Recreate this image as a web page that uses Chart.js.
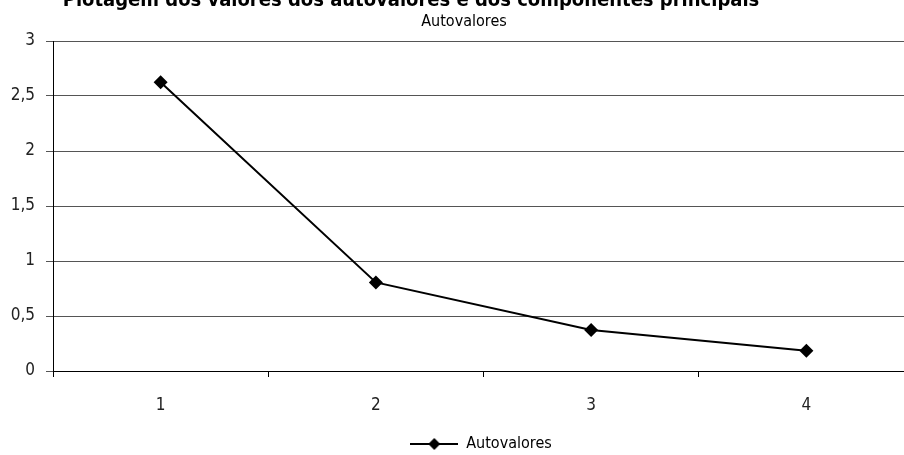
<!DOCTYPE html>
<html>
<head>
<meta charset="utf-8">
<script src="https://cdn.jsdelivr.net/npm/chart.js@4.4.1/dist/chart.umd.min.js"></script>
<style>
  html, body { margin: 0; padding: 0; background: #fff; overflow: hidden; }
  #wrap { position: absolute; left: 0; top: 0; width: 962px; height: 462px; }
</style>
</head>
<body>
<div id="wrap"><canvas id="chart"></canvas></div>
<script>
const FONT = "'Liberation Sans Narrow', 'DejaVu Sans Condensed', 'Open Sans', sans-serif";

const components = ['1', '2', '3', '4'];
const eigenvalues = [2.625, 0.805, 0.372, 0.183];
const seriesName = 'Autovalores';
const chartTitle = 'Plotagem dos valores dos autovalores e dos componentes principais';
const chartSubtitle = 'Autovalores';

// legend swatch: short line with a diamond in the middle
function legendSwatch() {
	const c = document.createElement('canvas');
	c.width = 48;
	c.height = 14;
	const g = c.getContext('2d');
	g.strokeStyle = '#000';
	g.lineWidth = 2;
	g.beginPath();
	g.moveTo(0, 7);
	g.lineTo(48, 7);
	g.stroke();
	g.fillStyle = '#000';
	g.beginPath();
	g.moveTo(24, 1);
	g.lineTo(30, 7);
	g.lineTo(24, 13);
	g.lineTo(18, 7);
	g.closePath();
	g.fill();
	return c;
}

// title sits partly above the top edge, so it is drawn by hand
const headerText = {
	id: 'headerText',
	afterDraw(chart) {
		const ctx = chart.ctx;
		ctx.save();
		ctx.fillStyle = '#000';
		ctx.textAlign = 'center';
		ctx.textBaseline = 'alphabetic';
		ctx.font = 'bold 20px ' + FONT;
		ctx.fillText(chartTitle, 411, 6);
		ctx.font = '16px ' + FONT;
		ctx.fillText(chartSubtitle, 464, 26);
		ctx.restore();
	}
};

const ctx = document.getElementById('chart').getContext('2d');

new Chart(ctx, {
	type: 'line',
	data: {
		labels: components,
		datasets: [{
			label: seriesName,
			data: eigenvalues,
			borderColor: '#000',
			backgroundColor: '#000',
			borderWidth: 2,
			tension: 0,
			pointStyle: 'rectRot',
			pointRadius: 7,
			pointHoverRadius: 7,
			pointBackgroundColor: '#000',
			pointBorderColor: '#000',
			pointBorderWidth: 0
		}]
	},
	options: {
		responsive: true,
		maintainAspectRatio: false,
		animation: false,
		layout: { padding: { top: 41, right: 0, bottom: 0, left: 0 } },
		plugins: {
			title: { display: false },
			tooltip: { enabled: false },
			legend: {
				position: 'bottom',
				labels: {
					usePointStyle: true,
					pointStyle: legendSwatch(),
					pointStyleWidth: 48,
					padding: 4,
					color: '#000',
					font: { family: FONT, size: 16 }
				}
			}
		},
		scales: {
			x: {
				offset: true,
				afterFit: s => { s.height = 61; },
				grid: {
					offset: true,
					drawOnChartArea: false,
					drawTicks: true,
					tickLength: 6,
					color: '#000'
				},
				border: { color: '#000', width: 1 },
				ticks: {
					color: '#222',
					padding: 18,
					font: { family: FONT, size: 17 }
				}
			},
			y: {
				min: 0,
				max: 3,
				afterFit: s => { s.width = 53; },
				grid: {
					color: '#555',
					lineWidth: 1,
					tickLength: 7
				},
				border: { color: '#000', width: 1 },
				ticks: {
					stepSize: 0.5,
					color: '#222',
					padding: 11,
					font: { family: FONT, size: 17 },
					callback: v => String(v).replace('.', ',')
				}
			},
			// empty margin on the right of the plot
			gap: {
				position: 'right',
				afterFit: s => { s.width = 48; },
				grid: { display: false },
				border: { display: false },
				ticks: { display: false }
			}
		}
	},
	plugins: [headerText]
});
</script>
</body>
</html>
